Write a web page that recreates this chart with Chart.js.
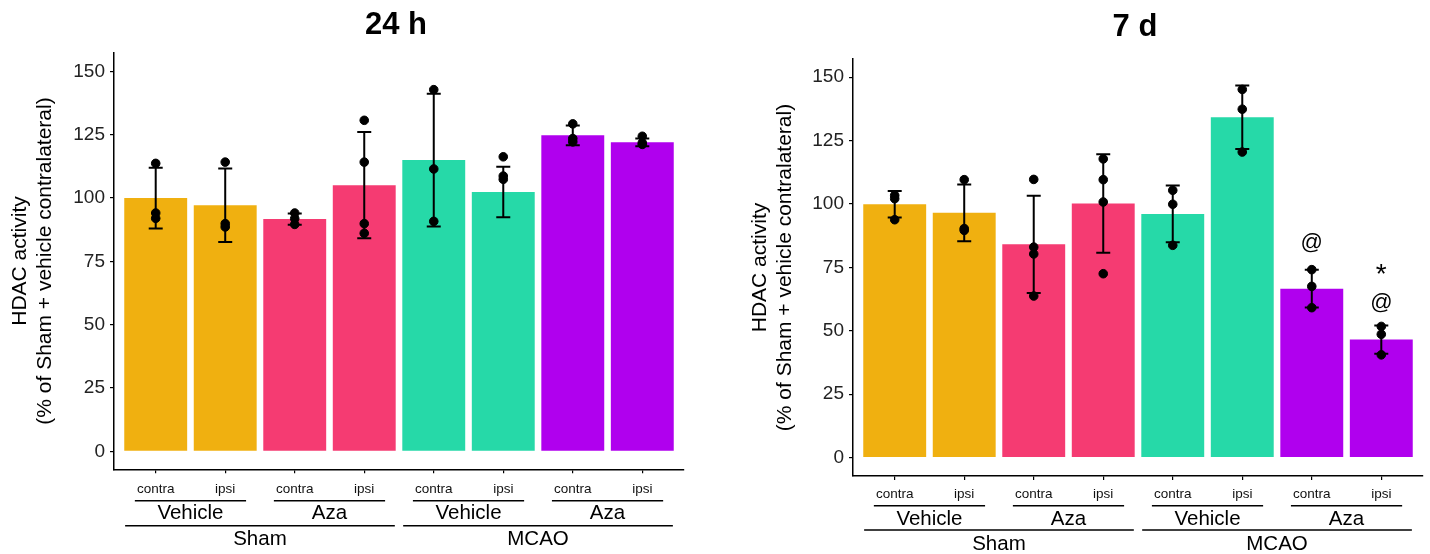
<!DOCTYPE html>
<html>
<head>
<meta charset="utf-8">
<script src="https://cdn.jsdelivr.net/npm/chart.js@4.4.0/dist/chart.umd.min.js"></script>
<style>
  html,body{margin:0;padding:0;background:#fff;}
  #wrap{position:relative;width:1430px;height:554px;}
  .panel{position:absolute;top:0;width:715px;height:554px;}
</style>
</head>
<body>
<div id="wrap">
  <div class="panel" style="left:0"><canvas id="c24"></canvas></div>
  <div class="panel" style="left:715px"><canvas id="c7"></canvas></div>
</div>
<script>
'use strict';
var FONT = '"Liberation Sans", Arial, Helvetica, sans-serif';

// categories
var sides = ['contra','ipsi','contra','ipsi','contra','ipsi','contra','ipsi'];
var treatments = ['Vehicle','Aza','Vehicle','Aza'];
var surgeries = ['Sham','MCAO'];
var barColors = ['#F0B010','#F0B010','#F53B72','#F53B72','#26D9A8','#26D9A8','#B000EE','#B000EE'];
var yTicks = [0,25,50,75,100,125,150];
var yTitle = ['HDAC activity','(% of Sham + vehicle contralateral)'];

// 24 h
var mean24 = [100, 97.2, 91.7, 105.1, 115, 102.4, 124.8, 122];
var sd24 = [12, 14.5, 2.2, 21, 26.2, 10, 3.9, 1.5];
var pts24 = [
  [113.7, 94.1, 92.0],
  [114.2, 89.9, 88.6],
  [94.1, 91.9, 89.6],
  [130.7, 114.2, 89.9, 86.1],
  [142.8, 111.5, 90.8],
  [116.3, 108.7, 107.4],
  [129.3, 123.5, 122.2],
  [124.4, 121.8, 121.2]
];

// 7 d
var mean7 = [99.9, 96.5, 84.1, 100.2, 96.1, 134.2, 66.6, 46.5];
var sd7 = [5.2, 11.2, 19.2, 19.4, 11.2, 12.5, 7.45, 5.6];
var pts7 = [
  [103.4, 102.1, 93.8],
  [109.6, 90.3, 89.6],
  [109.7, 83.0, 80.3, 63.7],
  [117.8, 109.6, 100.8, 72.5],
  [105.4, 99.9, 83.7],
  [145.2, 137.4, 120.5],
  [74.1, 67.5, 59.1],
  [51.7, 48.6, 40.5]
];
var annot7Text = ['@','@','*'];
var annot7Bar = [7, 8, 8];
var annot7Y = [84.7, 61.1, 71.8];
var annot7Size = [22, 22, 28];

function makePanel(id, p){
  var scatter = [];
  p.pts.forEach(function(arr,i){ arr.forEach(function(v){ scatter.push({x:i+1,y:v}); }); });

  var deco = {
    id:'deco'+id,
    afterDatasetDraw:function(chart,args){
      if(args.index!==0) return;
      var ctx=chart.ctx, x=chart.scales.x, y=chart.scales.y;
      ctx.save(); ctx.strokeStyle='#000'; ctx.lineWidth=2;
      p.means.forEach(function(m,i){
        var px=x.getPixelForValue(i+1), hi=y.getPixelForValue(m+p.sds[i]), lo=y.getPixelForValue(m-p.sds[i]);
        ctx.beginPath();
        ctx.moveTo(px,hi); ctx.lineTo(px,lo);
        ctx.moveTo(px-7,hi); ctx.lineTo(px+7,hi);
        ctx.moveTo(px-7,lo); ctx.lineTo(px+7,lo);
        ctx.stroke();
      });
      ctx.restore();
    },
    afterDraw:function(chart){
      var ctx=chart.ctx, x=chart.scales.x, y=chart.scales.y, a=chart.chartArea, b=a.bottom, o=p.offs;
      ctx.save();
      // title
      ctx.fillStyle='#000'; ctx.textAlign='center'; ctx.textBaseline='middle';
      ctx.font='bold 31px '+FONT;
      ctx.fillText(p.title,(a.left+a.right)/2-3,p.titleY);
      // annotations
      (p.annText||[]).forEach(function(t,k){
        ctx.font=p.annSize[k]+'px '+FONT;
        ctx.fillText(t,x.getPixelForValue(p.annBar[k]),y.getPixelForValue(p.annY[k]));
      });
      // nested group labels
      ctx.strokeStyle='#000'; ctx.lineWidth=1.5;
      ctx.font='20.5px '+FONT;
      treatments.forEach(function(t,k){
        var x1=x.getPixelForValue(2*k+1-0.3), x2=x.getPixelForValue(2*k+2+0.3);
        ctx.beginPath(); ctx.moveTo(x1,b+o[0]); ctx.lineTo(x2,b+o[0]); ctx.stroke();
        ctx.fillText(t,(x1+x2)/2,b+o[1]);
      });
      surgeries.forEach(function(s,k){
        var x1=x.getPixelForValue(4*k+1-0.44), x2=x.getPixelForValue(4*k+4+0.44);
        ctx.beginPath(); ctx.moveTo(x1,b+o[2]); ctx.lineTo(x2,b+o[2]); ctx.stroke();
        ctx.fillText(s,(x1+x2)/2,b+o[3]);
      });
      ctx.restore();
    }
  };

  return new Chart(document.getElementById(id),{
    type:'bar',
    data:{datasets:[
      {type:'scatter',data:scatter,backgroundColor:'#000',borderColor:'#000',pointRadius:4.3,pointHoverRadius:4.3,order:0},
      {type:'bar',data:p.means.map(function(v,i){return {x:i+1,y:v};}),backgroundColor:barColors,borderWidth:0,
       barPercentage:0.905,categoryPercentage:1,order:1}
    ]},
    options:{
      responsive:true,maintainAspectRatio:false,animation:false,
      layout:{padding:{left:0,top:p.top,right:p.right,bottom:0}},
      plugins:{legend:{display:false},tooltip:{enabled:false}},
      scales:{
        x:{type:'linear',min:0.4,max:8.6,offset:false,
          afterBuildTicks:function(s){ s.ticks = sides.map(function(_,i){return {value:i+1};}); },
          afterFit:function(s){ s.height = p.xH; },
          grid:{display:true,offset:false,drawOnChartArea:false,drawTicks:true,tickLength:4,color:'#000',lineWidth:1.2},
          border:{display:true,color:'#000',width:1.5},
          ticks:{callback:function(v,i){return sides[i];},font:{family:FONT,size:13.5},color:'#111',padding:p.tickPad,maxRotation:0,autoSkip:false}
        },
        y:{min:p.yMin,max:p.yMax,
          afterBuildTicks:function(s){ s.ticks = yTicks.map(function(v){return {value:v};}); },
          afterFit:function(s){ s.width = p.yW; },
          grid:{display:true,drawOnChartArea:false,drawTicks:true,tickLength:4,color:'#000',lineWidth:1.2},
          border:{display:true,color:'#000',width:1.5},
          ticks:{font:{family:FONT,size:19},color:'#222',padding:5},
          title:{display:true,text:yTitle,color:'#000',font:{family:FONT,size:21,lineHeight:1.2},padding:{top:p.yTitlePad,bottom:0}}
        }
      }
    },
    plugins:[deco]
  });
}

makePanel('c24',{title:'24 h',titleY:25,means:mean24,sds:sd24,pts:pts24,
  top:52.7,right:31,xH:84.7,yW:114,yMin:-7.1,yMax:157.4,yTitlePad:7.4,tickPad:8,offs:[31.4,44,56.4,69.7]});
makePanel('c7',{title:'7 d',titleY:27,means:mean7,sds:sd7,pts:pts7,
  annText:annot7Text,annBar:annot7Bar,annY:annot7Y,annSize:annot7Size,
  top:59,right:7,xH:78,yW:138,yMin:-7.3,yMax:157.2,yTitlePad:32.4,tickPad:6,offs:[29.7,43,54,68]});
</script>
</body>
</html>
